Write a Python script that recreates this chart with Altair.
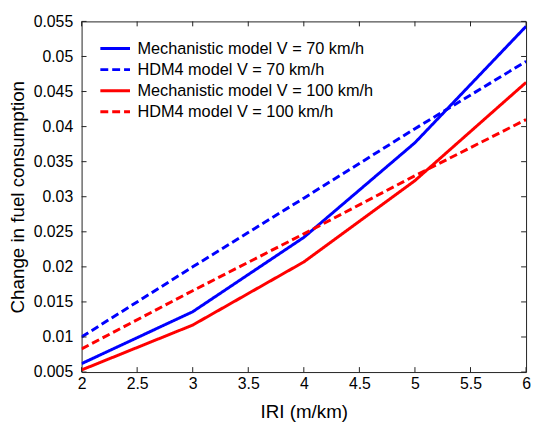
import altair as alt
import pandas as pd

iri = [2, 3, 4, 5, 6]
mech70 = [0.0062, 0.0136, 0.0242, 0.0377, 0.0543]
hdm70 = [0.0100, 0.0200, 0.0298, 0.0397, 0.0493]
mech100 = [0.0053, 0.0117, 0.0207, 0.0323, 0.0463]
hdm100 = [0.0083, 0.0166, 0.0247, 0.0330, 0.0410]

series_names = [
    "Mechanistic model V = 70 km/h",
    "HDM4 model V = 70 km/h",
    "Mechanistic model V = 100 km/h",
    "HDM4 model V = 100 km/h",
]
series_colors = ["#0000FF", "#0000FF", "#FF0000", "#FF0000"]
series_dash = [[1, 0], [8, 4], [1, 0], [8, 4]]

x_ticks = [2, 2.5, 3, 3.5, 4, 4.5, 5, 5.5, 6]
y_ticks = [0.005, 0.01, 0.015, 0.02, 0.025, 0.03, 0.035, 0.04, 0.045, 0.05, 0.055]

X_DOM = [2, 6]
Y_DOM = [0.005, 0.055]
W, H = 450, 355
TL = 5
DY = (Y_DOM[1] - Y_DOM[0]) * TL / H
DX = (X_DOM[1] - X_DOM[0]) * TL / W

rows = []
for name, vals in zip(series_names, [mech70, hdm70, mech100, hdm100]):
    for xv, yv in zip(iri, vals):
        rows.append({"IRI": xv, "value": yv, "series": name})
df = pd.DataFrame(rows)
dfx = pd.DataFrame({"IRI": x_ticks})
dfy = pd.DataFrame({"value": y_ticks})

FONT = "Liberation Sans"
xscale = alt.Scale(domain=X_DOM, nice=False, zero=False)
yscale = alt.Scale(domain=Y_DOM, nice=False, zero=False)

x_axis = alt.Axis(values=x_ticks, format="~g", ticks=False, domain=False,
                  grid=False, labelPadding=4, labelFlush=False,
                  labelOverlap=False, title="IRI (m/km)", titlePadding=11)
y_axis = alt.Axis(values=y_ticks, format=".3~f", ticks=False, domain=False,
                  grid=False, labelPadding=9, labelFlush=False,
                  labelOverlap=False,
                  title="Change in fuel consumption", titlePadding=6)

main = alt.Chart(df).mark_line(strokeWidth=3, clip=True).encode(
    x=alt.X("IRI:Q", scale=xscale, axis=x_axis),
    y=alt.Y("value:Q", scale=yscale, axis=y_axis),
    color=alt.Color("series:N", scale=alt.Scale(domain=series_names, range=series_colors),
                    title=None),
    strokeDash=alt.StrokeDash("series:N", scale=alt.Scale(domain=series_names, range=series_dash),
                              title=None),
)

XN = alt.X("IRI:Q", scale=xscale, axis=None)
YN = alt.Y("value:Q", scale=yscale, axis=None)
rule_style = dict(color="#222222", strokeWidth=1)

xt_bottom = alt.Chart(dfx).mark_rule(**rule_style).encode(
    x=XN, y=alt.YDatum(Y_DOM[0], scale=yscale, axis=None), y2=alt.datum(Y_DOM[0] + DY))
xt_top = alt.Chart(dfx).mark_rule(**rule_style).encode(
    x=XN, y=alt.YDatum(Y_DOM[1], scale=yscale, axis=None), y2=alt.datum(Y_DOM[1] - DY))
yt_left = alt.Chart(dfy).mark_rule(**rule_style).encode(
    y=YN, x=alt.XDatum(X_DOM[0], scale=xscale, axis=None), x2=alt.datum(X_DOM[0] + DX))
yt_right = alt.Chart(dfy).mark_rule(**rule_style).encode(
    y=YN, x=alt.XDatum(X_DOM[1], scale=xscale, axis=None), x2=alt.datum(X_DOM[1] - DX))

chart = alt.layer(main, xt_bottom, xt_top, yt_left, yt_right).resolve_axis(
    x="independent", y="independent"
).properties(
    width=W,
    height=H,
    autosize=alt.AutoSizeParams(type="none"),
    padding={"left": 74.5, "top": 11, "right": 5, "bottom": 49},
).configure_view(
    stroke="#222222", strokeWidth=1
).configure_axis(
    labelFont=FONT, titleFont=FONT, labelFontSize=16, titleFontSize=19,
    labelColor="#000000", titleColor="#000000", titleFontWeight="normal",
).configure_legend(
    orient="none", legendX=17.5, legendY=19, padding=0,
    labelFont=FONT, labelFontSize=16.5, labelColor="#000000", labelLimit=400,
    symbolType="stroke", symbolSize=900, symbolStrokeWidth=3,
    clipHeight=17, rowPadding=4.3, labelOffset=6,
)

chart.save("out.html", embed_options={"renderer": "svg", "actions": False})
